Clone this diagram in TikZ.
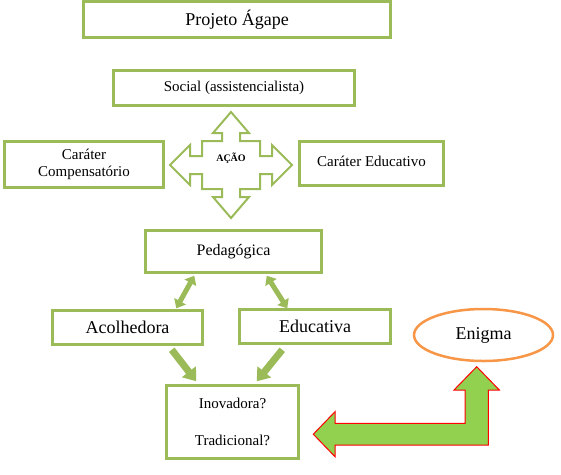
\documentclass[tikz,border=0pt]{standalone}
\usepackage{fontspec}
\setmainfont{Liberation Serif}
\usetikzlibrary{arrows.meta,calc,shapes.geometric}
\definecolor{boxgreen}{HTML}{9BBB59}
\definecolor{arrowgreen}{HTML}{92D050}
\definecolor{enigorange}{HTML}{F79646}
\begin{document}
\begin{tikzpicture}[x=1pt,y=-1pt,
  box/.style={draw=boxgreen, line width=2.5pt, fill=white, inner sep=0pt, align=center, text=black},
  fs/.style={font=\fontsize{#1}{#1}\selectfont},
  dbl/.style={draw=boxgreen, line width=5pt, {Triangle[length=8pt,width=13pt]}-{Triangle[length=8pt,width=13pt]}},
  downarrow/.style={draw=boxgreen, line width=7pt, -{Triangle[length=12pt,width=17pt]}},
]
\useasboundingbox (0,0) rectangle (561,474);

% boxes
\node[box, fs=18, minimum width=307pt, minimum height=36pt] (proj) at (237,19.5) {Projeto Ágape};
\node[box, fs=15, minimum width=241pt, minimum height=35pt] (social) at (234,88) {Social (assistencialista)};
\node[box, font=\fontsize{15}{17}\selectfont, minimum width=159pt, minimum height=46pt] (comp) at (84,164.5) {Caráter\\Compensatório};
\node[box, fs=15, minimum width=144pt, minimum height=44pt] (educ) at (371.5,163.5) {\raisebox{4pt}{Caráter Educativo}};
\node[box, fs=16, minimum width=176pt, minimum height=42pt] (ped) at (233.5,251.5) {\raisebox{4pt}{Pedagógica}};
\node[box, fs=18, minimum width=150pt, minimum height=34pt] (acol) at (127.5,327.5) {Acolhedora};
\node[box, fs=18, minimum width=151pt, minimum height=34pt] (edu) at (315,326.5) {Educativa};
\node[box, font=\fontsize{15}{18.5}\selectfont, minimum width=132pt, minimum height=73pt] (ino) at (232.5,422) {Inovadora?\\[18.5pt]Tradicional?};
\node[draw=enigorange, line width=2.5pt, ellipse, inner sep=0pt, minimum width=139pt, minimum height=52pt, fs=18] (enig) at (483.5,335) {Enigma};

% quad arrow callout
\begin{scope}[shift={(231,165)}]
\draw[boxgreen, line width=2pt, fill=white, line join=miter]
  (0,-53) -- (18,-32) -- (9,-32) -- (9,-24) -- (29,-24) -- (29,-9) -- (41,-9) -- (41,-20) -- (61,0)
  -- (41,20) -- (41,9) -- (29,9) -- (29,24) -- (9,24) -- (9,32) -- (18,32) -- (0,53)
  -- (-18,32) -- (-9,32) -- (-9,24) -- (-29,24) -- (-29,9) -- (-41,9) -- (-41,20) -- (-61,0)
  -- (-41,-20) -- (-41,-9) -- (-29,-9) -- (-29,-24) -- (-9,-24) -- (-9,-32) -- (-18,-32) -- cycle;
\end{scope}
\node[font=\bfseries\fontsize{10}{12}\selectfont] (acao) at (231,158) {AÇÃO};

% connectors
\draw[dbl] ([xshift=50pt,yshift=-2pt]ped.south west) -- ([xshift=-27.5pt,yshift=1pt]acol.north east);
\draw[dbl] ([xshift=-56pt,yshift=-2pt]ped.south east) -- ([xshift=49pt,yshift=0pt]edu.north west);
\draw[downarrow] ([xshift=-32pt,yshift=-4pt]acol.south east) -- ([xshift=31pt,yshift=3pt]ino.north west);
\draw[downarrow] ([xshift=44pt,yshift=-5pt]edu.south west) -- ([xshift=-43pt,yshift=3pt]ino.north east);

% L-shaped block arrow between Inovadora/Tradicional and Enigma
\draw[red, line width=1pt, fill=arrowgreen, line join=miter]
  (313.3,434.2) -- (335,411.7) -- (335,423.3) -- (465,423.3) -- (465,390) -- (454,390)
  -- (476.7,366.7) -- (499.3,390) -- (488.3,390) -- (488.3,445) -- (335,445) -- (335,456.7) -- cycle;
\end{tikzpicture}
\end{document}
